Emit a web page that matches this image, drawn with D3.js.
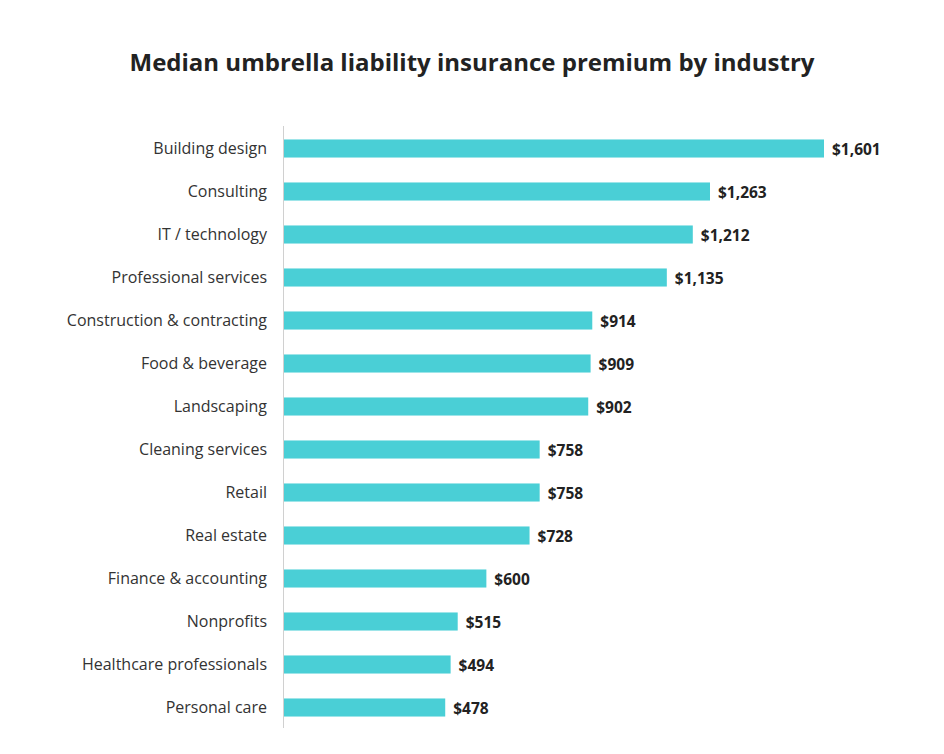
<!DOCTYPE html>
<html><head><meta charset="utf-8">
<script src="https://cdn.jsdelivr.net/npm/d3@7"></script>
<style>body{margin:0;background:#fff;} svg{display:block;}</style>
</head><body><svg id="c" width="944" height="754"></svg>
<script>
const categories = ["Building design","Consulting","IT / technology","Professional services","Construction & contracting","Food & beverage","Landscaping","Cleaning services","Retail","Real estate","Finance & accounting","Nonprofits","Healthcare professionals","Personal care"];
const values = [1601,1263,1212,1135,914,909,902,758,758,728,600,515,494,478];
const title = "Median umbrella liability insurance premium by industry";

const svg = d3.select("#c");
const x = d3.scaleLinear().domain([0,1601]).range([284,824]);
const y = d3.scaleBand().domain(categories).range([127,729]).paddingInner(0.58).paddingOuter(0.29);

svg.append("text").attr("x",472).attr("y",71).attr("text-anchor","middle")
  .attr("font-family","Open Sans").attr("font-weight",700).attr("font-size",24).attr("fill","#222")
  .text(title);

svg.append("line").attr("x1",283.5).attr("x2",283.5).attr("y1",126).attr("y2",728)
  .attr("stroke","#d0d0d0").attr("stroke-width",1);

const data = categories.map((c,i)=>({c,v:values[i]}));
svg.selectAll("rect.bar").data(data).join("rect").attr("class","bar")
  .attr("x",x(0)).attr("y",d=>y(d.c)).attr("width",d=>x(d.v)-x(0)).attr("height",y.bandwidth())
  .attr("fill","#4acfd6");

svg.selectAll("text.cat").data(data).join("text").attr("class","cat")
  .attr("x",267).attr("y",d=>y(d.c)+y.bandwidth()/2).attr("dy","0.35em").attr("text-anchor","end")
  .attr("font-family","Open Sans").attr("font-size",16).attr("fill","#333").text(d=>d.c);

const fmt = d3.format(",");
svg.selectAll("text.val").data(data).join("text").attr("class","val")
  .attr("x",d=>x(d.v)+8).attr("y",d=>y(d.c)+y.bandwidth()/2+1).attr("dy","0.35em")
  .attr("font-family","Open Sans").attr("font-weight",700).attr("font-size",15.5).attr("fill","#222")
  .text(d=>"$"+fmt(d.v));
</script></body></html>
